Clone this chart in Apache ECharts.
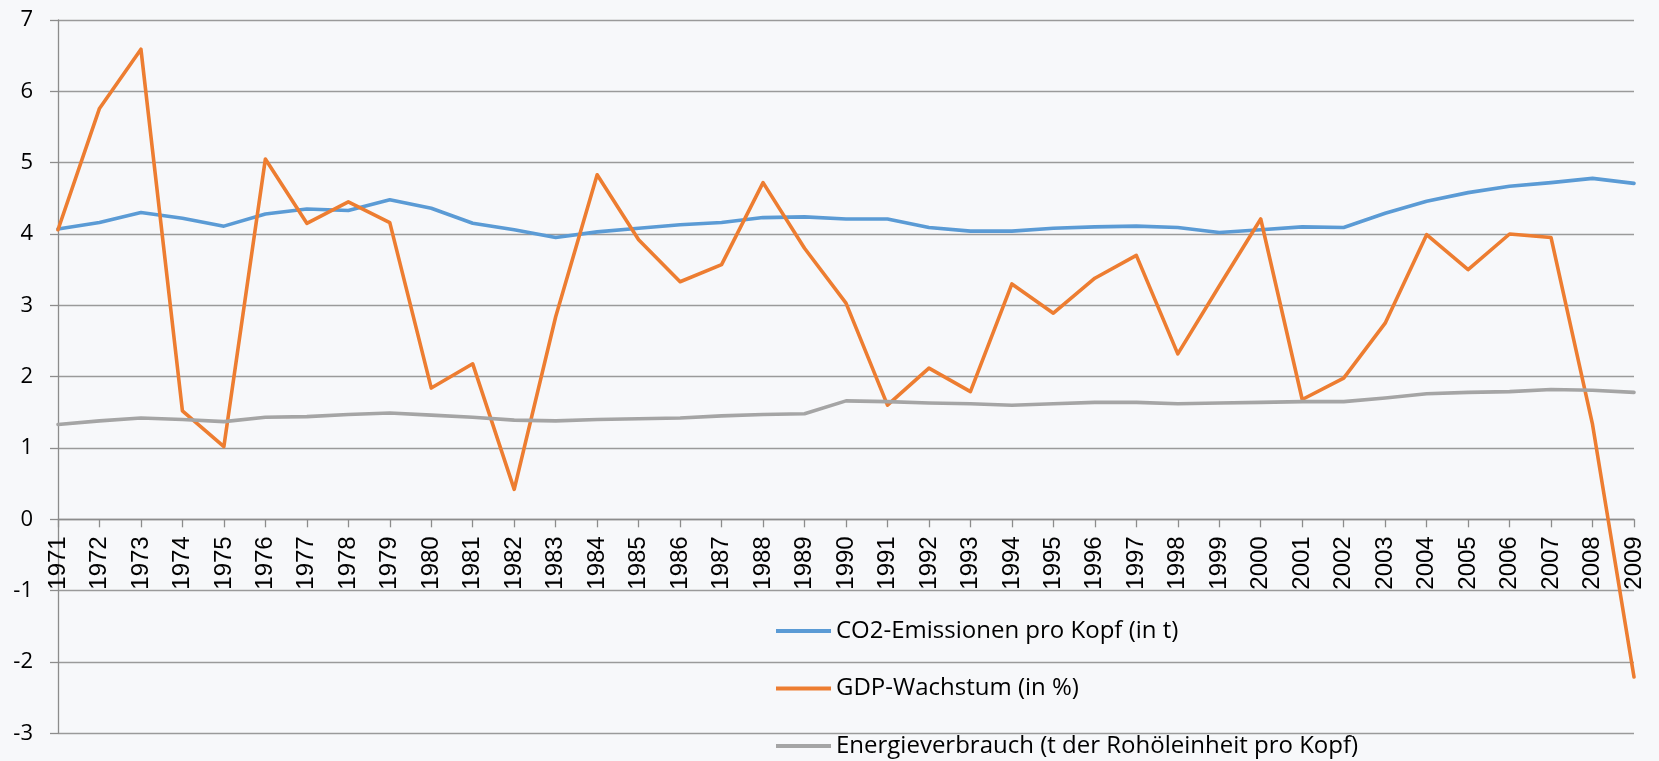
<!DOCTYPE html>
<html>
<head>
<meta charset="utf-8">
<script src="https://cdn.jsdelivr.net/npm/echarts@6/dist/echarts.min.js"></script>
<style>
html,body{margin:0;padding:0;background:#f7f8fa;}
#chart{width:1659px;height:761px;}
</style>
</head>
<body>
<div id="chart"></div>
<script>
const years = ['1971','1972','1973','1974','1975','1976','1977','1978','1979','1980','1981','1982','1983','1984','1985','1986','1987','1988','1989','1990','1991','1992','1993','1994','1995','1996','1997','1998','1999','2000','2001','2002','2003','2004','2005','2006','2007','2008','2009'];
const co2 = [4.07,4.16,4.30,4.22,4.11,4.28,4.35,4.33,4.48,4.36,4.15,4.06,3.95,4.03,4.08,4.13,4.16,4.23,4.24,4.21,4.21,4.09,4.04,4.04,4.08,4.10,4.11,4.09,4.02,4.06,4.10,4.09,4.29,4.46,4.58,4.67,4.72,4.78,4.71];
const gdp = [4.06,5.76,6.59,1.52,1.02,5.05,4.15,4.45,4.16,1.84,2.18,0.42,2.84,4.83,3.92,3.33,3.57,4.72,3.80,3.03,1.60,2.12,1.79,3.30,2.89,3.38,3.70,2.32,3.27,4.21,1.68,1.98,2.75,3.99,3.50,4.00,3.95,1.33,-2.21];
const energy = [1.33,1.38,1.42,1.40,1.37,1.43,1.44,1.47,1.49,1.46,1.43,1.39,1.38,1.40,1.41,1.42,1.45,1.47,1.48,1.66,1.65,1.63,1.62,1.60,1.62,1.64,1.64,1.62,1.63,1.64,1.65,1.65,1.70,1.76,1.78,1.79,1.82,1.81,1.78];
const names = ['CO2-Emissionen pro Kopf (in t)','GDP-Wachstum (in %)','Energieverbrauch (t der Rohöleinheit pro Kopf)'];
const colors = ['#5b9bd5','#ed7d31','#a5a5a5'];

const chart = echarts.init(document.getElementById('chart'), null, {renderer:'canvas'});
const mk = (name, data, color) => ({
  name, type:'line', data, showSymbol:false, symbol:'none', smooth:false,
  lineStyle:{color, width:3.6, cap:'round', join:'round'},
  itemStyle:{color}, animation:false
});
chart.setOption({
  backgroundColor:'#f7f8fa',
  animation:false,
  color: colors,
  grid:{left:58, right:25, top:20, bottom:27.7, containLabel:false},
  legend:{
    type:'plain', orient:'vertical', left:776, top:618, bottom:0, padding:0,
    itemWidth:55, itemHeight:4, itemGap:31.5,
    icon:'rect',
    textStyle:{fontFamily:'Open Sans', fontSize:24, color:'#000', lineHeight:26},
    data: names
  },
  xAxis:{
    type:'category', data: years, boundaryGap:false,
    offset:-214,
    axisLine:{onZero:false, lineStyle:{color:'#8c8c8c', width:1.3}},
    axisTick:{show:true, length:8, interval:0, lineStyle:{color:'#8c8c8c', width:1.3}},
    axisLabel:{interval:0, rotate:90, margin:17, fontFamily:'Liberation Sans', fontSize:24, color:'#000'},
    splitLine:{show:false}
  },
  yAxis:{
    type:'value', min:-3, max:7, interval:1,
    axisLine:{show:true, lineStyle:{color:'#8c8c8c', width:1.3}},
    axisTick:{show:true, length:8, lineStyle:{color:'#8c8c8c', width:1.3}},
    axisLabel:{margin:25, fontFamily:'Open Sans', fontSize:22, color:'#000'},
    splitLine:{show:true, lineStyle:{color:'#9a9a9a', width:1.3}}
  },
  series:[mk(names[0], co2, colors[0]), mk(names[1], gdp, colors[1]), mk(names[2], energy, colors[2])]
});
</script>
</body>
</html>
